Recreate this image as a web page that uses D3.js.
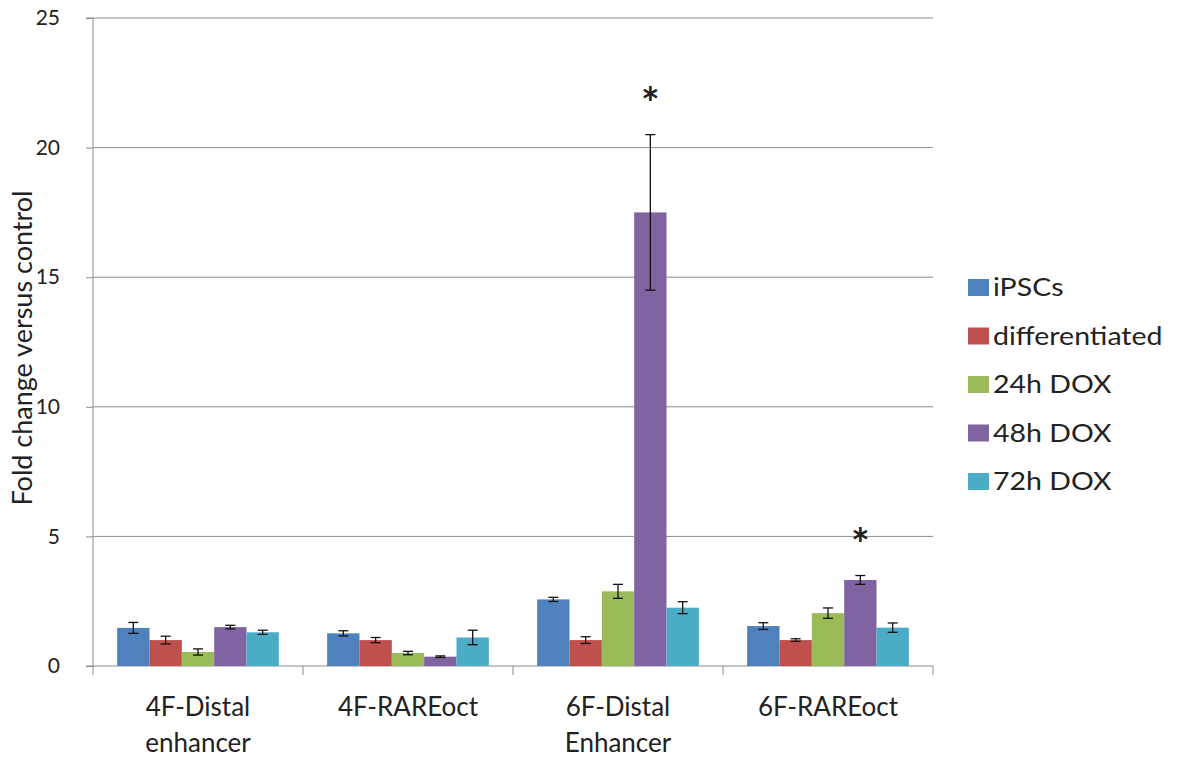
<!DOCTYPE html>
<html><head><meta charset="utf-8">
<script src="https://cdn.jsdelivr.net/npm/d3@7"></script>
<style>body{margin:0;background:#fff}svg{display:block}text{font-family:Lato,"Open Sans",sans-serif;fill:#222}</style>
</head><body><svg id="c" width="1177" height="758"></svg>
<script>
const categories = [["4F-Distal","enhancer"],["4F-RAREoct"],["6F-Distal","Enhancer"],["6F-RAREoct"]];
const categoryKeys = ["4F-Distal enhancer","4F-RAREoct","6F-Distal Enhancer","6F-RAREoct"];
const seriesNames = ["iPSCs","differentiated","24h DOX","48h DOX","72h DOX"];
const colors = ["#4F81BD","#C0504D","#9BBB59","#8064A2","#4BACC6"];
const iPSCs = [1.47,1.26,2.57,1.54];
const differentiated = [1.0,1.0,1.0,1.0];
const dox24 = [0.54,0.5,2.88,2.04];
const dox48 = [1.5,0.36,17.5,3.32];
const dox72 = [1.3,1.1,2.25,1.48];
const errIPSCs = [0.21,0.1,0.08,0.13];
const errDiff = [0.15,0.1,0.13,0.05];
const err24 = [0.12,0.065,0.27,0.2];
const err48 = [0.07,0.03,3.0,0.17];
const err72 = [0.08,0.28,0.23,0.18];
const yTicks = [0,5,10,15,20,25];
const significant = [{cat:"6F-Distal Enhancer",series:"48h DOX"},{cat:"6F-RAREoct",series:"48h DOX"}];

const values = [iPSCs,differentiated,dox24,dox48,dox72];
const errs = [errIPSCs,errDiff,err24,err48,err72];
const data = [];
categoryKeys.forEach((c,ci)=>seriesNames.forEach((s,si)=>data.push({cat:c,series:s,v:values[si][ci],e:errs[si][ci],color:colors[si]})));

const svg = d3.select("#c");
const L=93,R=933,T=18,B=666;
const x = d3.scaleBand().domain(categoryKeys).range([L,R]).paddingInner(0.23).paddingOuter(0.115);
const xOuter = d3.scaleBand().domain(categoryKeys).range([L,R]);
const xs = d3.scaleBand().domain(seriesNames).range([0,x.bandwidth()]);
const y = d3.scaleLinear().domain([0,25]).range([B,T]);

// gridlines
svg.append("g").selectAll("line").data(yTicks.filter(t=>t>0)).join("line")
  .attr("x1",L).attr("x2",R).attr("y1",d=>y(d)).attr("y2",d=>y(d))
  .attr("stroke","#8c8c8c").attr("stroke-width",1);

// y axis
const ya = svg.append("g").attr("transform",`translate(${L},0)`)
  .call(d3.axisLeft(y).tickValues(yTicks).tickSize(7).tickPadding(26));
ya.select(".domain").attr("stroke","#8c8c8c").attr("d",`M-7,${B}H0V${T}H-7`);
ya.selectAll(".tick line").attr("stroke","#8c8c8c");
ya.selectAll(".tick text").attr("font-size",21).attr("font-family","Lato,sans-serif").attr("fill","#222");

// x axis
const xa = svg.append("g").attr("transform",`translate(0,${B})`);
xa.append("line").attr("x1",L).attr("x2",R).attr("stroke","#8c8c8c");
const bounds = categoryKeys.map(c=>xOuter(c)).concat([R]);
xa.selectAll("line.t").data(bounds).join("line").attr("class","t")
  .attr("x1",d=>d).attr("x2",d=>d).attr("y1",0).attr("y2",9).attr("stroke","#8c8c8c");
xa.selectAll("text").data(categories).join("text")
  .attr("x",(d,i)=>xOuter(categoryKeys[i])+xOuter.bandwidth()/2)
  .attr("y",50).attr("text-anchor","middle").attr("font-size",26)
  .selectAll("tspan").data(d=>d).join("tspan")
  .attr("x",function(){return d3.select(this.parentNode).attr("x");})
  .attr("dy",(d,i)=>i===0?0:36).text(d=>d);

// bars
const bars = svg.append("g");
bars.selectAll("rect").data(data).join("rect")
  .attr("x",d=>x(d.cat)+xs(d.series)).attr("width",xs.bandwidth())
  .attr("y",d=>y(d.v)).attr("height",d=>y(0)-y(d.v)).attr("fill",d=>d.color);

// error bars
const eb = svg.append("g").attr("stroke","#111").attr("stroke-width",1.3);
data.forEach(d=>{
  const cx = x(d.cat)+xs(d.series)+xs.bandwidth()/2;
  eb.append("line").attr("x1",cx).attr("x2",cx).attr("y1",y(d.v+d.e)).attr("y2",y(d.v-d.e));
  eb.append("line").attr("x1",cx-5).attr("x2",cx+5).attr("y1",y(d.v+d.e)).attr("y2",y(d.v+d.e));
  eb.append("line").attr("x1",cx-5).attr("x2",cx+5).attr("y1",y(d.v-d.e)).attr("y2",y(d.v-d.e));
});

// asterisks
svg.append("g").selectAll("text").data(significant).join("text")
  .attr("x",d=>x(d.cat)+xs(d.series)+xs.bandwidth()/2)
  .attr("y",d=>{const r=data.find(q=>q.cat===d.cat&&q.series===d.series);return y(r.v+r.e)-16;})
  .attr("text-anchor","middle").attr("font-size",44).attr("font-weight","bold")
  .attr("font-family","DejaVu Sans,sans-serif").attr("fill","#111").text("*");

// y title
svg.append("text").attr("transform","translate(32,348) rotate(-90)")
  .attr("text-anchor","middle").attr("font-size",27).text("Fold change versus control");

// legend
const lg = svg.append("g").selectAll("g").data(seriesNames).join("g")
  .attr("transform",(d,i)=>`translate(968,${296+i*48.5})`);
lg.append("rect").attr("x",0).attr("y",-17).attr("width",21).attr("height",17).attr("fill",(d,i)=>colors[i]);
lg.append("text").attr("transform","translate(25,0) scale(1.14,1)").attr("font-size",25).text(d=>d);
</script></body></html>
